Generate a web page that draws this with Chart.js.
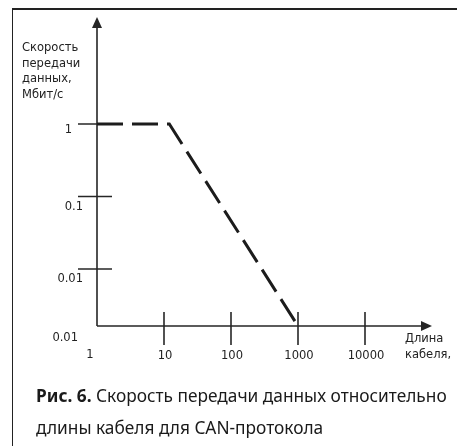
<!DOCTYPE html>
<html>
<head>
<meta charset="utf-8">
<script src="https://cdn.jsdelivr.net/npm/chart.js@4"></script>
<style>
    body { margin: 0; background: #fff; }
    #wrap { position: relative; width: 457px; height: 446px; }
    #caption {
        position: absolute; left: 36px; top: 380px;
        font-family: "Noto Sans", sans-serif; font-size: 17.3px; line-height: 32px;
        color: #1a1a1a; white-space: nowrap;
    }
</style>
</head>
<body>
<div id="wrap">
    <canvas id="graficaCAN" width="457" height="446"></canvas>
    <div id="caption"><b>Рис. 6.</b> Скорость передачи данных относительно<br>длины кабеля для CAN-протокола</div>
</div>
<script>
// datos
const longitudCable = [1, 12, 1000];
const velocidad = [1, 1, 0.00164];
const rangoX = [1, 100000];
const rangoY = [0.00164, 29.9];
const ticksX = [1, 10, 100, 1000, 10000];
const etiquetasX = ["1", "10", "100", "1000", "10000"];
const ticksY = [1, 0.1, 0.01];
const etiquetasY = ["1", "0.1", "0.01"];
const etiquetaOrigenY = "0.01";
const tituloY = ["Скорость", "передачи", "данных,", "Мбит/с"];
const tituloX = ["Длина", "кабеля,"];

const fuente = '12.8px "DejaVu Sans Condensed", "DejaVu Sans", sans-serif';
const colorEje = "#262626";

// ejes con flechas, marcas y textos
const ejesPlugin = {
    id: "ejes",
    beforeDatasetsDraw(chart) {
        const { ctx, chartArea, scales } = chart;
        const x0 = scales.x.getPixelForValue(rangoX[0]);
        const y0 = scales.y.getPixelForValue(rangoY[0]);
        ctx.save();

        // marco
        ctx.fillStyle = "#222";
        ctx.fillRect(12, 8, 445, 2);
        ctx.fillRect(12, 8, 1, 438);

        ctx.strokeStyle = colorEje;
        ctx.fillStyle = colorEje;
        ctx.lineWidth = 1.6;
        ctx.beginPath();
        ctx.moveTo(x0, y0);
        ctx.lineTo(x0, chartArea.top + 10);
        ctx.moveTo(x0, y0);
        ctx.lineTo(chartArea.right - 10, y0);
        ctx.stroke();

        // flechas
        ctx.beginPath();
        ctx.moveTo(x0, chartArea.top);
        ctx.lineTo(x0 - 5, chartArea.top + 11);
        ctx.lineTo(x0 + 5, chartArea.top + 11);
        ctx.closePath();
        ctx.fill();
        ctx.beginPath();
        ctx.moveTo(chartArea.right, y0);
        ctx.lineTo(chartArea.right - 11, y0 - 5);
        ctx.lineTo(chartArea.right - 11, y0 + 5);
        ctx.closePath();
        ctx.fill();

        ctx.font = fuente;
        ctx.fillStyle = "#222";
        ctx.textBaseline = "middle";

        // marcas eje Y
        ticksY.forEach((v, i) => {
            const py = scales.y.getPixelForValue(v);
            ctx.beginPath();
            ctx.moveTo(x0 - 19, py);
            ctx.lineTo(x0 + 15, py);
            ctx.stroke();
            ctx.textAlign = "right";
            const dx = v === rangoY[1] || v >= 1 ? 25 : 14;
            ctx.fillText(etiquetasY[i], x0 - dx, py + (v >= 1 ? 6 : 10));
        });
        ctx.textAlign = "right";
        ctx.fillText(etiquetaOrigenY, x0 - 19, y0 + 12);

        // marcas eje X
        ticksX.forEach((v, i) => {
            const px = scales.x.getPixelForValue(v);
            ctx.textAlign = "center";
            if (v === rangoX[0]) {
                ctx.fillText(etiquetasX[i], px - 7, y0 + 29);
                return;
            }
            ctx.beginPath();
            ctx.moveTo(px, y0 - 14);
            ctx.lineTo(px, y0 + 19);
            ctx.stroke();
            ctx.fillText(etiquetasX[i], px + 1, y0 + 30);
        });

        // titulos
        ctx.textAlign = "left";
        tituloY.forEach((t, i) => ctx.fillText(t, 22, 48 + i * 15.5));
        tituloX.forEach((t, i) => ctx.fillText(t, 405, y0 + 13 + i * 15.5));

        ctx.restore();
    }
};

const ctx = document.getElementById("graficaCAN").getContext("2d");
new Chart(ctx, {
    type: "line",
    data: {
        datasets: [{
            data: longitudCable.map((l, i) => ({ x: l, y: velocidad[i] })),
            borderColor: "#1c1c1c",
            borderWidth: 3,
            borderDash: [26, 9],
            borderCapStyle: "butt",
            pointRadius: 0,
            tension: 0,
            fill: false,
            clip: false
        }]
    },
    options: {
        responsive: false,
        animation: false,
        plugins: {
            legend: { display: false },
            tooltip: { enabled: false }
        },
        scales: {
            x: { type: "logarithmic", min: rangoX[0], max: rangoX[1], display: false },
            y: { type: "logarithmic", min: rangoY[0], max: rangoY[1], display: false }
        },
        layout: {
            padding: { left: 97, right: 25, top: 17, bottom: 120 }
        }
    },
    plugins: [ejesPlugin]
});
</script>
</body>
</html>
